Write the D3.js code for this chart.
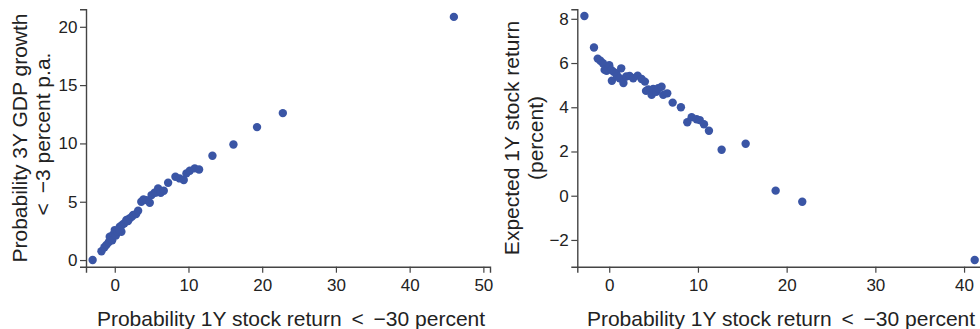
<!DOCTYPE html>
<html>
<head>
<meta charset="utf-8">
<script src="https://cdn.jsdelivr.net/npm/d3@7"></script>
<style>
  html, body { margin: 0; padding: 0; background: #fff; }
  svg { display: block; font-family: "Liberation Sans", Arial, Helvetica, sans-serif; }
</style>
</head>
<body>
<svg id="chart" width="980" height="329"></svg>
<script>
// Left panel: probability of 1Y stock return < -30% vs probability 3Y GDP growth < -3% p.a.
const leftX = [-3.0, -1.8, -1.4, -1.13, -0.8, -0.68, -0.35, -0.2, 0.0, 0.15, 0.35, 0.68, 0.9, 0.6,
  1.0, 1.3, 1.58, 1.8, 2.0, 2.3, 2.5, 2.9, 3.17, 3.6, 3.9, 4.3, 4.75, 5.0, 5.4, 5.6, 5.88, 6.24,
  6.65, 7.24, 8.23, 8.8, 9.36, 9.72, 10.18, 10.85, 11.44, 13.25, 16.1, 19.3, 22.8, 46.0];
const leftY = [0.0, 0.75, 1.1, 1.3, 1.55, 2.0, 1.7, 2.2, 2.57, 2.1, 2.45, 2.86, 2.43, 2.6,
  3.0, 3.15, 3.43, 3.35, 3.57, 3.7, 3.86, 3.95, 4.23, 5.0, 5.2, 5.14, 4.91, 5.57, 5.77, 5.8, 6.14, 5.77,
  5.94, 6.63, 7.14, 7.0, 6.86, 7.43, 7.66, 7.86, 7.77, 8.94, 9.91, 11.4, 12.6, 20.85];

// Right panel: probability of 1Y stock return < -30% vs expected 1Y stock return
const rightX = [-2.8, -1.72, -1.3, -1.0, -0.71, -0.52, -0.3, 0.0, 0.23, 0.3, 0.5, 0.79, 0.9, 1.17,
  1.35, 1.6, 1.92, 2.3, 2.7, 3.2, 3.65, 4.02, 4.15, 4.4, 4.78, 4.96, 5.3, 5.52, 5.9, 6.09, 6.54,
  7.15, 8.08, 8.8, 9.29, 9.85, 10.2, 10.68, 11.24, 12.67, 15.38, 18.76, 21.76, 41.2];
const rightY = [8.13, 6.7, 6.2, 6.1, 5.99, 5.69, 5.65, 5.9, 5.69, 5.2, 5.6, 5.54, 5.4, 5.31,
  5.76, 5.1, 5.39, 5.42, 5.31, 5.43, 5.28, 5.16, 4.74, 4.8, 4.56, 4.83, 4.7, 4.86, 4.93, 4.56, 4.63,
  4.21, 4.0, 3.32, 3.55, 3.46, 3.42, 3.23, 2.94, 2.08, 2.35, 0.23, -0.27, -2.91];

const leftXTicks = [0, 10, 20, 30, 40, 50];
const leftYTicks = [0, 5, 10, 15, 20];
const rightXTicks = [0, 10, 20, 30, 40];
const rightYTicks = [-2, 0, 2, 4, 6, 8];

const xTitle = "Probability 1Y stock return < \u221230 percent";
const leftYTitle = ["Probability 3Y GDP growth", "< \u22123 percent p.a."];
const rightYTitle = ["Expected 1Y stock return", "(percent)"];

const pointColor = "#3a55a5";
const axisColor = "#444";
const svg = d3.select("#chart");

// write a title, giving the relation sign "<" wider (math-style) spacing
function writeTitle(sel, str) {
  const parts = str.split("<");
  parts.forEach((p, i) => {
    if (i > 0) sel.append("tspan").attr("dx", 4).text("<");
    sel.append("tspan").attr("dx", i > 0 ? 4 : 0).text(p);
  });
}

function panel(cfg) {
  const x = d3.scaleLinear().domain(cfg.xDomain).range(cfg.xRange);
  const y = d3.scaleLinear().domain(cfg.yDomain).range(cfg.yRange);
  const g = svg.append("g");

  const xa = g.append("g")
    .attr("transform", `translate(0,${cfg.yRange[0]})`)
    .call(d3.axisBottom(x).tickValues(cfg.xTicks).tickSizeOuter(0).tickSize(6).tickPadding(6).tickFormat(d3.format("d")));
  const ya = g.append("g")
    .attr("transform", `translate(${cfg.xRange[0]},0)`)
    .call(d3.axisLeft(y).tickValues(cfg.yTicks).tickSizeOuter(0).tickSize(6).tickPadding(2.5).tickFormat(d3.format("d")));
  [xa, ya].forEach(a => {
    a.select(".domain").attr("stroke", axisColor).attr("stroke-width", 1.4);
    a.selectAll(".tick line").attr("stroke", axisColor).attr("stroke-width", 1.2);
    a.selectAll(".tick text").attr("fill", "#222").style("font-size", "17px")
      .style("font-family", '"Liberation Sans", Arial, sans-serif');
  });

  g.append("g").selectAll("circle")
    .data(cfg.xs.map((v, i) => [v, cfg.ys[i]]))
    .join("circle")
    .attr("cx", d => x(d[0]))
    .attr("cy", d => y(d[1]))
    .attr("r", 4.2)
    .attr("fill", pointColor);

  const xt = g.append("text")
    .attr("x", cfg.xTitleX)
    .attr("y", 326)
    .attr("text-anchor", "middle")
    .attr("fill", "#222")
    .style("font-size", "21px");
  writeTitle(xt, xTitle);

  const midY = (cfg.yRange[0] + cfg.yRange[1]) / 2;
  cfg.yTitle.forEach((t, i) => {
    const yt = g.append("text")
      .attr("transform", `translate(${cfg.yTitleX[i]},${midY}) rotate(-90)`)
      .attr("text-anchor", "middle")
      .attr("fill", "#222")
      .style("font-size", "21px");
    writeTitle(yt, t);
  });
}

panel({
  xs: leftX, ys: leftY,
  xDomain: [-3.9, 50.9], xRange: [86, 490],
  yDomain: [-0.57, 21.5], yRange: [266.7, 9.3],
  xTicks: leftXTicks, yTicks: leftYTicks,
  xTitleX: 291, yTitle: leftYTitle, yTitleX: [26.7, 50]
});

panel({
  xs: rightX, ys: rightY,
  xDomain: [-3.6, 42], xRange: [577.3, 981.8],
  yDomain: [-3.21, 8.43], yRange: [266.7, 9.3],
  xTicks: rightXTicks, yTicks: rightYTicks,
  xTitleX: 781, yTitle: rightYTitle, yTitleX: [519.4, 542.7]
});
</script>
</body>
</html>
